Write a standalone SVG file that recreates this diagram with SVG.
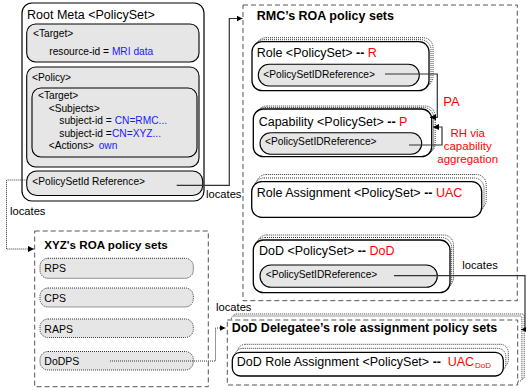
<svg xmlns="http://www.w3.org/2000/svg" width="526" height="390" viewBox="0 0 526 390">
<defs>
<style>
text{font-family:"Liberation Sans",Arial,sans-serif;fill:#000}
.t12{font-size:12.5px}
.t10{font-size:10.2px}
.t105{font-size:10.5px}
.loc{font-size:11.2px}
.b{font-weight:bold}
.red{fill:#f00}
.blue{fill:#1a1aff}
.box{fill:#fff;stroke:#000;stroke-width:1.2}
.main{fill:#fff;stroke:#000;stroke-width:1.3}
.sh{fill:#fff;stroke:#333;stroke-width:1;stroke-dasharray:1 1}
.ref{fill:#e6e6e6;stroke:#000;stroke-width:1.1}
.dref{fill:#e6e6e6;stroke:#333;stroke-width:1;stroke-dasharray:1 1}
.dash{fill:#fff;stroke:#555;stroke-width:1;stroke-dasharray:5 3}
.con{fill:none;stroke:#333;stroke-width:1.2}
.dot{fill:none;stroke:#333;stroke-width:1;stroke-dasharray:1 1}
</style>
<marker id="ah" viewBox="0 0 6 6" refX="6" refY="3" markerWidth="6" markerHeight="6" markerUnits="userSpaceOnUse" orient="auto">
<path d="M0,0 L6,3 L0,6 Z" fill="#000"/>
</marker>
</defs>

<g id="root-meta">
<rect class="box" x="22" y="3" width="182" height="198" rx="10"/>
<text class="t12" x="27" y="19">Root Meta &lt;PolicySet&gt;</text>
<rect class="ref" x="26.7" y="24" width="172.3" height="38" rx="9"/>
<text class="t10" x="33" y="37">&lt;Target&gt;</text>
<text class="t10" x="49.3" y="54.5">resource-id = <tspan class="blue">MRI data</tspan></text>
<rect class="ref" x="26.7" y="67" width="172.3" height="100" rx="9"/>
<text class="t10" x="32" y="81">&lt;Policy&gt;</text>
<rect class="ref" x="32" y="88" width="165" height="69" rx="9"/>
<text class="t10" x="38" y="98.5">&lt;Target&gt;</text>
<text class="t10" x="48.7" y="111.7">&lt;Subjects&gt;</text>
<text class="t10" x="59.3" y="124">subject-id = <tspan class="blue" x="114.7">CN=RMC...</tspan></text>
<text class="t10" x="59.3" y="136.5">subject-id =<tspan class="blue" x="112">CN=XYZ...</tspan></text>
<text class="t10" x="48.7" y="149">&lt;Actions&gt; <tspan class="blue" x="98.7">own</tspan></text>
<rect class="ref" x="26.7" y="171" width="176" height="24.5" rx="10"/>
<text class="t10" x="32.3" y="184.5">&lt;PolicySetId Reference&gt;</text>
</g>

<g id="rmc-roa">
<rect class="dash" x="243" y="5" width="274.3" height="295.7"/>
<text class="t12 b" x="256.7" y="20">RMC’s ROA policy sets</text>
</g>

<g id="role">
<rect class="sh" x="256" y="37.7" width="177" height="49" rx="10"/>
<rect class="sh" x="254" y="39.7" width="177" height="49" rx="10"/>
<rect class="main" x="252" y="41.7" width="177" height="49" rx="10"/>
<text class="t12" x="256.7" y="57.3">Role &lt;PolicySet&gt; <tspan class="b">--</tspan> <tspan class="red">R</tspan></text>
<rect class="ref" x="258.3" y="64.3" width="161" height="21.7" rx="10.8"/>
<text class="t10" x="263.3" y="78">&lt;PolicySetIDReference&gt;</text>
</g>

<g id="capability">
<rect class="sh" x="256.8" y="106" width="178.4" height="47.7" rx="10"/>
<rect class="sh" x="255.2" y="107.5" width="178.4" height="47.7" rx="10"/>
<rect class="main" x="253.3" y="109" width="178.4" height="47.7" rx="10"/>
<text class="t12" x="258.7" y="125.7">Capability  &lt;PolicySet&gt; <tspan class="b">--</tspan> <tspan class="red">P</tspan></text>
<rect class="ref" x="260" y="132.7" width="161.7" height="21.6" rx="10.8"/>
<text class="t10" x="265" y="145.3">&lt;PolicySetIDReference&gt;</text>
</g>

<g id="role-assignment">
<rect class="sh" x="256.2" y="174.5" width="230" height="35.6" rx="10"/>
<rect class="sh" x="254" y="178" width="230" height="35.6" rx="10"/>
<rect class="main" x="251.7" y="181.7" width="230" height="35.6" rx="10"/>
<text class="t12" x="256.7" y="197">Role Assignment &lt;PolicySet&gt; <tspan class="b">--</tspan> <tspan class="red">UAC</tspan></text>
</g>

<g id="dod">
<rect class="sh" x="256.8" y="235" width="196.7" height="52.7" rx="10"/>
<rect class="sh" x="255" y="237.5" width="196.7" height="52.7" rx="10"/>
<rect class="main" x="253.3" y="240" width="196.7" height="52.7" rx="10"/>
<text class="t12" x="259" y="255">DoD &lt;PolicySet&gt; <tspan class="b">--</tspan> <tspan class="red">DoD</tspan></text>
<rect class="ref" x="260" y="265" width="177.3" height="22.3" rx="11"/>
<text class="t10" x="265.7" y="278.3">&lt;PolicySetIDReference&gt;</text>
</g>

<g id="xyz-roa">
<rect class="dash" x="34.7" y="231" width="173.6" height="155.7"/>
<text class="b" style="font-size:11.6px" x="44.3" y="249">XYZ's ROA policy sets</text>
</g>
<g id="rps">
<rect class="dref" x="40" y="258.3" width="153.3" height="20" rx="8"/>
<text class="t105" x="44.3" y="271.5">RPS</text>
</g>
<g id="cps">
<rect class="dref" x="40" y="288" width="153.3" height="19" rx="8"/>
<text class="t105" x="44.3" y="301.5">CPS</text>
</g>
<g id="raps">
<rect class="dref" x="40" y="319" width="153.3" height="18.5" rx="8"/>
<text class="t105" x="44.3" y="333">RAPS</text>
</g>
<g id="dodps">
<rect class="dref" x="40" y="351.5" width="153.3" height="18.5" rx="8"/>
<text class="t105" x="44.3" y="364.5">DoDPS</text>
</g>

<g id="dod-delegatee">
<rect class="sh" x="233.8" y="314" width="290.4" height="65" rx="2"/>
<rect class="sh" x="231.5" y="316" width="290.4" height="65" rx="2"/>
<rect class="dash" x="227.3" y="320" width="290.4" height="65"/>
<text class="t12 b" x="231.7" y="332.3">DoD Delegatee’s role assignment policy sets</text>
</g>

<g id="dod-role-assignment">
<rect class="sh" x="237.3" y="344.3" width="271" height="23.7" rx="8"/>
<rect class="sh" x="234.8" y="348.3" width="271" height="23.7" rx="8"/>
<rect class="main" x="232.3" y="352.3" width="271" height="23.7" rx="8"/>
<text class="t12" x="236.7" y="366">DoD Role Assignment &lt;PolicySet&gt; <tspan class="b">--</tspan> <tspan class="red" x="447.7">UAC</tspan><tspan class="red" x="475" dy="1.5" style="font-size:8px">DoD</tspan></text>
</g>

<g id="connectors">
<path class="con" d="M176.7,185.3 H229.3 V18.5 H242.5" marker-end="url(#ah)"/>
<path class="dot" d="M26.7,180 H6.5 V249 H34" marker-end="url(#ah)"/>
<path class="con" d="M385,74 H437.3 V117.3 H430" marker-end="url(#ah)"/>
<path class="con" d="M409,145 H442 V127 H433" marker-end="url(#ah)"/>
<path class="con" stroke="#555" d="M394,275.7 H525 V329.5 H521" marker-end="url(#ah)"/>
<path class="dot" d="M110,361 H215.5 V328 H225.5" marker-end="url(#ah)"/>
<text class="loc" x="206" y="197.5">locates</text>
<text class="loc" x="10" y="215">locates</text>
<text class="loc" x="462.3" y="269.3">locates</text>
<text class="loc" x="216" y="311">locates</text>
<text class="red" style="font-size:13px" x="443.3" y="106">PA</text>
<text class="red" style="font-size:11.5px" text-anchor="middle" x="467.7" y="137.3">RH via</text>
<text class="red" style="font-size:11.5px" text-anchor="middle" x="467.7" y="150">capability</text>
<text class="red" style="font-size:11.5px" text-anchor="middle" x="467.7" y="163.3">aggregation</text>
</g>
</svg>
